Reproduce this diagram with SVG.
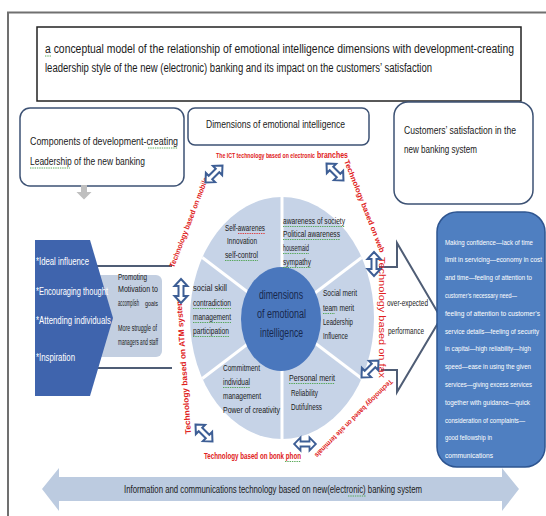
<svg xmlns="http://www.w3.org/2000/svg" xmlns:xlink="http://www.w3.org/1999/xlink" width="546" height="516" viewBox="0 0 546 516">
<style>
text{font-family:"Liberation Sans Narrow","Liberation Sans",Arial,sans-serif;fill:#1a1a1a}
.t{font-size:12.5px}
.hb{font-size:11.5px}
.seg{font-size:9px}
.ctr{font-size:12.5px;fill:#17284d}
.chev{font-size:11px;fill:#ffffff}
.lt{font-size:8.5px}
.red{font-size:7.5px;font-weight:bold;fill:#e02020}
.cust{font-size:7.5px;fill:#ffffff}
.box{fill:#ffffff;stroke:#3d5274;stroke-width:1.5}
.dbl{fill:#ffffff;stroke:#3d5e95;stroke-width:2;stroke-linejoin:miter}
.sq{stroke:#4aa24a;stroke-width:0.9;stroke-dasharray:1.4 0.9;fill:none}
.sqr{stroke:#e03030;stroke-width:0.9;stroke-dasharray:1.4 0.9;fill:none}
.ln{stroke:#4f5d75;stroke-width:2;fill:none}
</style>
<defs>
<path id="dbl" d="M-12,0 L-5,-6.5 L-5,-2.5 L5,-2.5 L5,-6.5 L12,0 L5,6.5 L5,2.5 L-5,2.5 L-5,6.5 Z"/>
<clipPath id="custclip"><rect x="437" y="212" width="109" height="246"/></clipPath>
</defs>
<rect width="546" height="516" fill="#ffffff"/>
<path d="M8,516 V12.5 H546" stroke="#707070" stroke-width="2" fill="none"/>

<g id="title">
<rect x="37" y="27" width="484" height="74" fill="#ffffff" stroke="#222" stroke-width="1.5"/>
<text class="t" x="45" y="53" textLength="469" lengthAdjust="spacingAndGlyphs">a conceptual model of the relationship of emotional intelligence dimensions with development-creating</text>
<text class="t" x="45" y="72" textLength="387" lengthAdjust="spacingAndGlyphs">leadership style of the new (electronic) banking and its impact on the customers’ satisfaction</text>
</g>

<g id="leadership-header">
<rect class="box" x="20" y="108" width="164" height="78" rx="10"/>
<text class="hb" x="30" y="145" textLength="148" lengthAdjust="spacingAndGlyphs">Components of development-creating</text>
<text class="hb" x="30" y="165" textLength="115" lengthAdjust="spacingAndGlyphs">Leadership of the new banking</text>
<path d="M81,185 h6 v7 h4.5 l-7.5,7.5 l-7.5,-7.5 h4.5 z" fill="#bfbfbf"/>
</g>

<g id="dimensions-header">
<rect class="box" x="188" y="108" width="181" height="37" rx="7"/>
<text class="hb" x="206" y="128" textLength="139" lengthAdjust="spacingAndGlyphs">Dimensions of emotional intelligence</text>
</g>

<g id="satisfaction-header">
<rect class="box" x="394" y="102" width="139" height="102" rx="14"/>
<text class="hb" x="404" y="134" textLength="112" lengthAdjust="spacingAndGlyphs">Customers’ satisfaction in the</text>
<text class="hb" x="404" y="153" textLength="73" lengthAdjust="spacingAndGlyphs">new banking system</text>
</g>

<g id="leadership-components">
<line class="ln" x1="90" y1="266" x2="172" y2="266"/>
<line class="ln" x1="90" y1="368" x2="172" y2="368"/>
<rect x="95" y="275" width="67" height="82" rx="6" fill="#c3cfe1"/>
<text class="lt" x="118" y="280" textLength="29" lengthAdjust="spacingAndGlyphs">Promoting</text>
<text class="lt" x="118" y="292" textLength="40" lengthAdjust="spacingAndGlyphs">Motivation  to</text>
<text class="lt" x="118" y="306" textLength="21" lengthAdjust="spacingAndGlyphs">accomplish</text>
<text x="145" y="306" font-size="6.5" textLength="13" lengthAdjust="spacingAndGlyphs">goals</text>
<text class="lt" x="118" y="331" textLength="39" lengthAdjust="spacingAndGlyphs">More struggle of</text>
<text class="lt" x="118" y="345" textLength="40" lengthAdjust="spacingAndGlyphs">managers and staff</text>
<polygon points="35,240 90,240 113,318 90,396 35,396" fill="#3f64ad"/>
<text class="chev" x="36" y="265" textLength="53" lengthAdjust="spacingAndGlyphs">*Ideal influence</text>
<text class="chev" x="36" y="295" textLength="72" lengthAdjust="spacingAndGlyphs">*Encouraging thought</text>
<text class="chev" x="36" y="324" textLength="75" lengthAdjust="spacingAndGlyphs">*Attending individuals</text>
<text class="chev" x="36" y="361" textLength="39" lengthAdjust="spacingAndGlyphs">*Inspiration</text>
</g>

<g id="performance-arrow">
<path class="ln" d="M379,267 H397 V243 L441,318 L397,392 V370 H381"/>
<text class="lt" x="387" y="306" textLength="41" lengthAdjust="spacingAndGlyphs">over-expected</text>
<text class="lt" x="388" y="334" textLength="36" lengthAdjust="spacingAndGlyphs">performance</text>
</g>

<g id="customer-satisfaction">
<rect x="437" y="212" width="108" height="255" rx="20" fill="#4f7fc1" stroke="#2e5590" stroke-width="1.5"/>
<g clip-path="url(#custclip)">
<text class="cust" x="445" y="244.5" textLength="88" lengthAdjust="spacingAndGlyphs">Making confidence—lack of time</text>
<text class="cust" x="445" y="262.3" textLength="97" lengthAdjust="spacingAndGlyphs">limit in servicing—economy in cost</text>
<text class="cust" x="445" y="280.1" textLength="87" lengthAdjust="spacingAndGlyphs">and time—feeling of attention to</text>
<text class="cust" x="445" y="297.9" textLength="72" lengthAdjust="spacingAndGlyphs">customer’s necessary need—</text>
<text class="cust" x="445" y="315.7" textLength="95" lengthAdjust="spacingAndGlyphs">feeling of attention to customer’s</text>
<text class="cust" x="445" y="333.5" textLength="94" lengthAdjust="spacingAndGlyphs">service details—feeling of security</text>
<text class="cust" x="445" y="351.3" textLength="86" lengthAdjust="spacingAndGlyphs">in capital—high reliability—high</text>
<text class="cust" x="445" y="369.1" textLength="86" lengthAdjust="spacingAndGlyphs">speed—ease in using the given</text>
<text class="cust" x="445" y="386.9" textLength="87" lengthAdjust="spacingAndGlyphs">services—giving excess services</text>
<text class="cust" x="445" y="404.7" textLength="85" lengthAdjust="spacingAndGlyphs">together with guidance—quick</text>
<text class="cust" x="445" y="422.5" textLength="80" lengthAdjust="spacingAndGlyphs">consideration of complaints—</text>
<text class="cust" x="445" y="440.3" textLength="47" lengthAdjust="spacingAndGlyphs">good fellowship in</text>
<text class="cust" x="445" y="458.1" textLength="48" lengthAdjust="spacingAndGlyphs">communications</text>
</g>
</g>

<g id="ei-wheel">
<ellipse cx="282" cy="318" rx="92" ry="121" fill="#c6d3e7"/>
<g stroke="#ffffff" stroke-width="3">
<line x1="282" y1="318" x2="282" y2="197"/>
<line x1="282" y1="318" x2="282" y2="439"/>
<line x1="282" y1="318" x2="361.7" y2="257.5"/>
<line x1="282" y1="318" x2="202.3" y2="257.5"/>
<line x1="282" y1="318" x2="202.3" y2="378.5"/>
<line x1="282" y1="318" x2="361.7" y2="378.5"/>
</g>
<ellipse cx="281" cy="319" rx="40" ry="52" fill="#4a77bd"/>
<text class="ctr" x="259" y="299" textLength="44" lengthAdjust="spacingAndGlyphs">dimensions</text>
<text class="ctr" x="257" y="318" textLength="49" lengthAdjust="spacingAndGlyphs">of emotional</text>
<text class="ctr" x="260" y="337" textLength="43" lengthAdjust="spacingAndGlyphs">intelligence</text>
</g>

<g id="seg-self">
<text class="seg" x="225" y="231" textLength="40" lengthAdjust="spacingAndGlyphs">Self-awarenes</text>
<text class="seg" x="227" y="244" textLength="30" lengthAdjust="spacingAndGlyphs">Innovation</text>
<text class="seg" x="225" y="258" textLength="33" lengthAdjust="spacingAndGlyphs">self-control</text>
</g>
<g id="seg-society">
<text class="seg" x="283" y="224" textLength="62" lengthAdjust="spacingAndGlyphs">awareness  of society</text>
<text class="seg" x="283" y="237" textLength="57" lengthAdjust="spacingAndGlyphs">Political   awareness</text>
<text class="seg" x="283" y="251" textLength="26" lengthAdjust="spacingAndGlyphs">housemaid</text>
<text class="seg" x="283" y="265" textLength="28" lengthAdjust="spacingAndGlyphs">sympathy</text>
</g>
<g id="seg-social">
<text class="seg" x="193" y="291" textLength="34" lengthAdjust="spacingAndGlyphs">social  skill</text>
<text class="seg" x="193" y="306" textLength="38" lengthAdjust="spacingAndGlyphs">contradiction</text>
<text class="seg" x="193" y="320" textLength="38" lengthAdjust="spacingAndGlyphs">management</text>
<text class="seg" x="193" y="334" textLength="36" lengthAdjust="spacingAndGlyphs">participation</text>
</g>
<g id="seg-merit">
<text class="seg" x="323" y="296" textLength="34" lengthAdjust="spacingAndGlyphs">Social  merit</text>
<text class="seg" x="323" y="311" textLength="31" lengthAdjust="spacingAndGlyphs">team merit</text>
<text class="seg" x="323" y="325" textLength="30" lengthAdjust="spacingAndGlyphs">Leadership</text>
<text class="seg" x="323" y="339" textLength="25" lengthAdjust="spacingAndGlyphs">Influence</text>
</g>
<g id="seg-commitment">
<text class="seg" x="223" y="371" textLength="37" lengthAdjust="spacingAndGlyphs">Commitment</text>
<text class="seg" x="223" y="385" textLength="27" lengthAdjust="spacingAndGlyphs">individual</text>
<text class="seg" x="223" y="399" textLength="38" lengthAdjust="spacingAndGlyphs">management</text>
<text class="seg" x="223" y="413" textLength="57" lengthAdjust="spacingAndGlyphs">Power of creativity</text>
</g>
<g id="seg-personal">
<text class="seg" x="289" y="381" textLength="46" lengthAdjust="spacingAndGlyphs">Personal   merit</text>
<text class="seg" x="291" y="396" textLength="27" lengthAdjust="spacingAndGlyphs">Reliability</text>
<text class="seg" x="291" y="410" textLength="31" lengthAdjust="spacingAndGlyphs">Dutifulness</text>
</g>

<g id="technology-labels">
<text class="red" x="216" y="158" style="font-size:7px" textLength="99" lengthAdjust="spacingAndGlyphs">The ICT technology based on electronic</text>
<text class="red" x="317" y="158" style="font-size:9.5px" textLength="31" lengthAdjust="spacingAndGlyphs">branches</text>
<text class="red" transform="translate(174,268) rotate(-69)" textLength="96" lengthAdjust="spacingAndGlyphs">Technology  based on mobile</text>
<text class="red" transform="translate(191,434) rotate(-94)" style="font-size:8px" textLength="136" lengthAdjust="spacingAndGlyphs">Technology  based  on  ATM  system</text>
<text class="red" transform="translate(344,161) rotate(68.5)" textLength="99" lengthAdjust="spacingAndGlyphs">Technology  based on web</text>
<text class="red" transform="translate(379,257) rotate(90)" style="font-size:9.5px;font-weight:normal" textLength="121" lengthAdjust="spacingAndGlyphs">Technology  based  on  fax</text>
<text class="red" transform="translate(390,379) rotate(135)" style="font-size:7px" textLength="107" lengthAdjust="spacingAndGlyphs">Technology based on site terminals</text>
<text class="red" x="204" y="459" style="font-size:8.5px" textLength="97" lengthAdjust="spacingAndGlyphs">Technology  based on bonk phon</text>
</g>

<g id="connectors">
<use href="#dbl" class="dbl" transform="translate(214,174) rotate(-45)"/>
<use href="#dbl" class="dbl" transform="translate(335,172) rotate(45)"/>
<use href="#dbl" class="dbl" transform="translate(181,291) rotate(90)"/>
<use href="#dbl" class="dbl" transform="translate(374,264) rotate(90)"/>
<use href="#dbl" class="dbl" transform="translate(370,369) rotate(-45)"/>
<use href="#dbl" class="dbl" transform="translate(204,433) rotate(45)"/>
<use href="#dbl" class="dbl" transform="translate(305,444) scale(0.9,1)"/>
</g>

<g id="ict-system">
<polygon points="42,489 59,468 59,477 502,477 502,468 519,489 502,511 502,501 59,501 59,511" fill="#bccbe0"/>
<text class="hb" x="124" y="493" textLength="298" lengthAdjust="spacingAndGlyphs">Information and communications technology based on new(electronic) banking system</text>
</g>

<g id="proofing-marks">
<line class="sq" x1="45" y1="56" x2="51" y2="56"/>
<line class="sq" x1="148" y1="148" x2="178" y2="148"/>
<line class="sq" x1="30" y1="168" x2="70" y2="168"/>
<line class="sqr" x1="238" y1="233.5" x2="265" y2="233.5"/>
<line class="sq" x1="225" y1="260.5" x2="258" y2="260.5"/>
<line class="sq" x1="283" y1="226.5" x2="345" y2="226.5"/>
<line class="sq" x1="283" y1="239.5" x2="340" y2="239.5"/>
<line class="sq" x1="283" y1="253.5" x2="309" y2="253.5"/>
<line class="sq" x1="283" y1="267.5" x2="311" y2="267.5"/>
<line class="sq" x1="193" y1="308.5" x2="231" y2="308.5"/>
<line class="sq" x1="193" y1="322.5" x2="231" y2="322.5"/>
<line class="sq" x1="193" y1="336.5" x2="229" y2="336.5"/>
<line class="sq" x1="323" y1="313.5" x2="335" y2="313.5"/>
<line class="sq" x1="223" y1="387.5" x2="250" y2="387.5"/>
<line class="sq" x1="289" y1="383.5" x2="335" y2="383.5"/>
<line class="sq" x1="348" y1="496" x2="366" y2="496"/>
<line class="sq" x1="285" y1="461.5" x2="301" y2="461.5"/>
</g>
</svg>
